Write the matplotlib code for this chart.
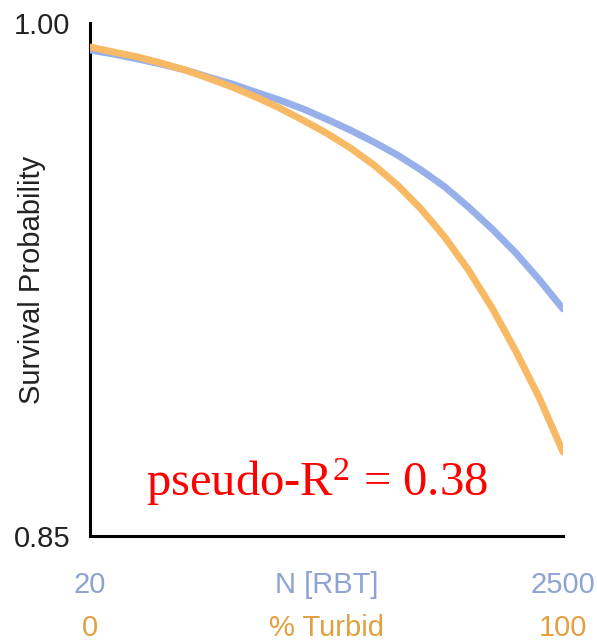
import matplotlib
matplotlib.use("Agg")
import matplotlib.pyplot as plt
import matplotlib.transforms as mtransforms

# Data
x_frac = [0.00, 0.05, 0.10, 0.15, 0.20, 0.25, 0.30, 0.35, 0.40, 0.45, 0.50,
          0.55, 0.60, 0.65, 0.70, 0.75, 0.80, 0.85, 0.90, 0.95, 1.00]
blue_rbt = [0.9921, 0.9909, 0.9895, 0.9880, 0.9863, 0.9842, 0.9822, 0.9798, 0.9775, 0.9749, 0.9719,
            0.9687, 0.9652, 0.9614, 0.9570, 0.9521, 0.9462, 0.9398, 0.9328, 0.9249, 0.9164]
orange_turbid = [0.9930, 0.9915, 0.9901, 0.9883, 0.9863, 0.9839, 0.9813, 0.9784, 0.9752, 0.9716, 0.9678,
                 0.9635, 0.9585, 0.9526, 0.9456, 0.9374, 0.9278, 0.9167, 0.9041, 0.8904, 0.8746]

y_ticks = [0.85, 1.00]
y_tick_labels = ["0.85", "1.00"]
blue_axis_labels = ["20", "N [RBT]", "2500"]
orange_axis_labels = ["0", "% Turbid", "100"]
label_positions = [0.0, 0.5, 1.0]
annotation = "pseudo-R$^{2}$ = 0.38"

BLUE_LINE = "#98b0ea"
ORANGE_LINE = "#f8b964"
BLUE_TXT = "#8ea2d4"
ORANGE_TXT = "#e3a040"

plt.rcParams["mathtext.fontset"] = "custom"
plt.rcParams["mathtext.rm"] = "Liberation Serif"
plt.rcParams["mathtext.it"] = "Liberation Serif:italic"
plt.rcParams["mathtext.bf"] = "Liberation Serif:bold"

fig = plt.figure(figsize=(5.97, 6.42), dpi=100)
ax = fig.add_axes([90/597, 1-536/642, (563-90)/597, (536-23)/642])

ax.plot(x_frac, blue_rbt, color=BLUE_LINE, lw=5.0, solid_capstyle="round",
        solid_joinstyle="round", zorder=3)
ax.plot(x_frac, orange_turbid, color=ORANGE_LINE, lw=5.0, solid_capstyle="round",
        solid_joinstyle="round", zorder=4)

ax.set_xlim(0, 1)
ax.set_ylim(0.85, 1.0)
ax.spines["top"].set_visible(False)
ax.spines["right"].set_visible(False)
for s in ("left", "bottom"):
    ax.spines[s].set_linewidth(2.2)
    ax.spines[s].set_color("black")

ax.set_xticks([])
ax.set_yticks(y_ticks)
ax.set_yticklabels(y_tick_labels, fontfamily="Liberation Sans", fontsize=21, color="#222222")
ax.tick_params(axis="y", length=0, pad=14)

fig.text(32/597, 1-280/642, "Survival Probability", rotation=90, ha="center", va="center",
         fontfamily="Liberation Sans", fontsize=21, color="#222222")

trans = mtransforms.blended_transform_factory(ax.transData, fig.transFigure)
for xp, bl, ol in zip(label_positions, blue_axis_labels, orange_axis_labels):
    ax.text(xp, 1-585/642, bl, transform=trans, ha="center", va="center",
            fontfamily="Liberation Sans", fontsize=21, color=BLUE_TXT)
    ax.text(xp, 1-628/642, ol, transform=trans, ha="center", va="center",
            fontfamily="Liberation Sans", fontsize=21, color=ORANGE_TXT)

ax.text(0.48, 1-482/642, annotation,
        transform=mtransforms.blended_transform_factory(ax.transAxes, fig.transFigure),
        ha="center", va="center", fontfamily="Liberation Serif", fontsize=35, color="#ff0000")

fig.savefig("out.png", dpi=100)
